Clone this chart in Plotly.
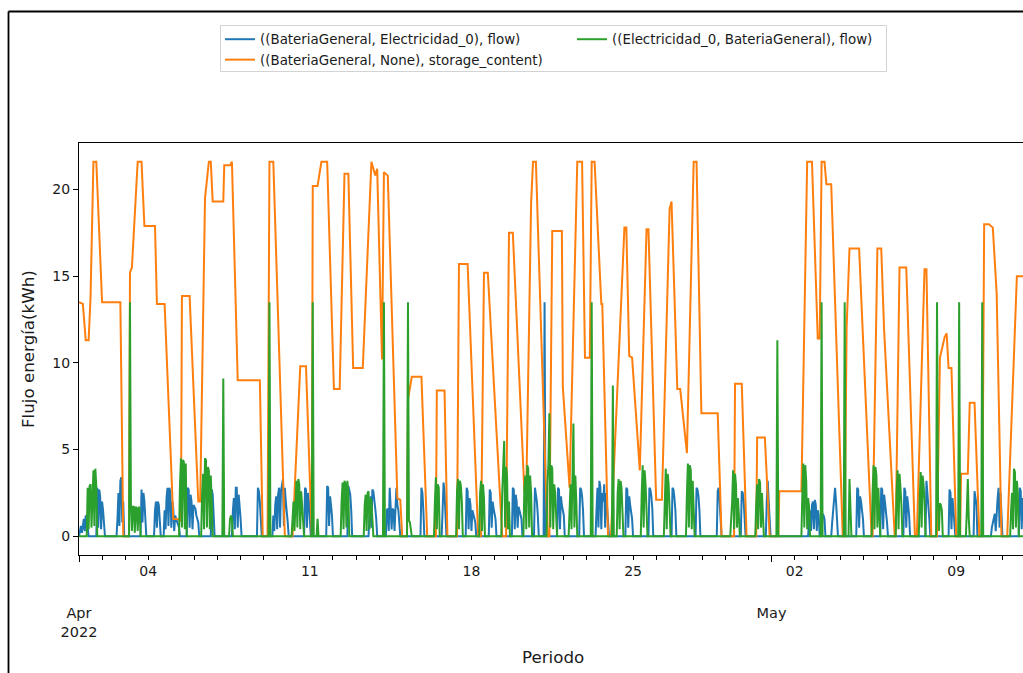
import pandas as pd
import plotly.graph_objects as go

START = pd.Timestamp("2022-04-01 00:00")
N_HOURS = 985

# Battery storage content: knots (hours since START, kWh)
storage_hours = [
    0, 4, 7, 10, 12, 15, 18, 24, 43, 46, 52, 53, 55, 61, 65, 68, 79, 81, 89, 98,
    102, 106, 107, 115, 124, 126, 131, 135, 137, 139, 150, 151, 157, 159, 165, 188,
    191, 196, 198, 202, 214, 222, 230, 236, 242, 243, 248, 252, 258, 265, 271, 276,
    280, 285, 295, 304, 308, 310, 315, 317, 321, 331, 334, 336, 341, 342, 346, 356,
    362, 371, 372, 380, 383, 393, 395, 404, 415, 418, 421, 425, 440, 444, 447, 451,
    463, 465, 470, 472, 475, 487, 489, 492, 502, 503, 510, 518, 523, 526, 531, 533,
    536, 541, 543, 544, 550, 553, 567, 569, 572, 575, 583, 590, 592, 600, 606, 614,
    616, 622, 625, 632, 639, 642, 647, 664, 668, 681, 682, 689, 694, 704, 705, 713,
    718, 727, 728, 751, 757, 762, 768, 770, 772, 775, 777, 782, 794, 796, 798, 801,
    811, 824, 825, 830, 834, 837, 848, 849, 853, 860, 869, 871, 879, 881, 886, 892,
    895, 900, 902, 904, 907, 912, 916, 917, 924, 926, 931, 936, 939, 941, 946, 950,
    954, 959, 965, 975, 984,
]
storage_kwh = [
    13.5, 13.4, 11.3, 11.3, 13.8, 21.6, 21.6, 13.5, 13.5, 0, 0, 15.2, 15.5, 21.6, 21.6, 17.9, 17.9, 13.4, 13.4, 1.0,
    1.0, 0.9, 13.85, 13.85, 2.0, 2.0, 19.5, 21.6, 21.6, 19.3, 19.3, 21.4, 21.4, 21.6, 9.0, 9.0,
    0, 0, 21.6, 21.6, 0, 0, 9.8, 9.8, 0, 20.2, 20.2, 21.6, 21.6, 8.5, 8.5, 20.9,
    20.9, 9.7, 9.7, 21.6, 20.8, 21.2, 10.2, 21.0, 20.8, 2.2, 2.1, 0, 0, 7.9, 9.2, 9.2,
    0, 0, 8.4, 8.4, 0, 0, 15.7, 15.7, 0, 0, 15.2, 15.2, 0, 0, 17.5, 17.5,
    2.6, 2.6, 19.2, 21.6, 21.6, 0, 0, 17.6, 17.6, 8.6, 2.8, 21.6, 21.6, 10.3, 10.3, 21.6,
    21.6, 16.2, 13.4, 13.4, 0, 0, 17.8, 17.8, 10.4, 10.3, 3.8, 17.7, 17.7, 2.1, 2.1, 18.9,
    19.3, 8.5, 8.5, 4.8, 21.6, 21.6, 7.1, 7.1, 0, 0, 8.8, 8.8, 0, 0, 5.7, 5.7,
    0, 0, 2.6, 2.6, 21.6, 21.6, 11.4, 11.4, 21.6, 21.6, 20.3, 20.3, 0, 0, 12.0, 16.6,
    16.6, 0, 0, 16.6, 16.6, 11.9, 0, 0, 15.5, 15.5, 0, 0, 15.4, 15.4, 0, 0,
    10.3, 11.5, 11.7, 9.7, 9.7, 0, 0, 3.6, 3.6, 7.7, 7.7, 0, 0, 18.0, 18.0, 17.8,
    14.0, 0, 0, 15.0, 15.0,
]

# Grid -> battery flow (charging): (first hour, hourly kWh)
charge_blocks = [
    (9, [2.8, 0.4, 2.9, 3.0, 0.5, 3.2, 3.8, 0.6, 3.9, 2.9]),
    (53, [13.5, 1.7, 0.3, 1.7, 1.7, 0.2, 1.7, 1.6, 0.3, 1.7, 1.6]),
    (105, [3.0, 4.5, 0.5, 4.4, 4.3, 0.4, 4.2]),
    (128, [2.5, 3.6, 0.4, 4.5, 4.4, 0.5, 4.0, 3.8, 0.4, 3.5, 2.0]),
    (150, [9.1]),
    (157, [1.0, 1.2, 1.0]),
    (198, [13.5]),
    (222, [1.0, 2.0, 0.3, 2.6, 3.2, 0.5, 3.3, 3.0, 0.4, 2.6, 1.5, 0.8]),
    (243, [13.5]),
    (248, [1.0]),
    (273, [2.0, 3.1, 0.4, 3.2, 3.0, 0.5, 3.2, 2.5]),
    (297, [1.8, 2.4, 0.3, 2.5, 2.6, 0.4, 2.2, 2.0, 1.0]),
    (317, [13.5]),
    (342, [13.5, 0.9, 0.8, 0.5]),
    (370, [2.0, 3.4, 0.4, 3.0, 2.8]),
    (393, [2.6, 3.3, 0.4, 3.2, 2.9, 2.0]),
    (417, [2.5, 3.2, 0.3, 3.0, 2.2]),
    (440, [2.5, 4.1, 5.5, 0.5, 4.0, 3.5, 0.4, 2.0]),
    (463, [2.8, 3.5, 0.4, 4.1, 3.9, 0.5, 3.5, 2.5]),
    (487, [3.0, 4.2, 7.1, 0.5, 4.1, 3.9, 0.4, 3.0, 2.5, 1.5]),
    (510, [1.5, 3.0, 0.4, 3.5, 6.5, 0.5, 3.5, 2.0]),
    (533, [13.5]),
    (555, [8.7]),
    (560, [2.5, 3.3, 0.4, 3.2, 2.8, 1.5]),
    (585, [2.5, 4.1, 0.5, 3.8, 3.0, 1.8]),
    (609, [2.0, 3.9, 0.4, 3.6, 3.0, 1.5]),
    (632, [2.5, 4.2, 0.5, 4.1, 3.8, 0.4, 3.2, 2.0]),
    (678, [1.0, 2.0, 3.8, 0.4, 3.6, 3.0, 0.5, 2.2, 1.2]),
    (704, [1.8, 3.0, 0.4, 3.3, 3.1, 0.5, 2.5, 1.5]),
    (726, [11.3]),
    (752, [2.5, 4.2, 0.5, 4.1, 3.2, 0.4, 2.2, 1.7]),
    (772, [13.5]),
    (796, [13.5]),
    (801, [3.3, 2.0]),
    (825, [2.5, 4.1, 0.4, 4.0, 3.5, 0.5, 2.8, 1.5]),
    (850, [2.5, 3.8, 0.4, 3.6, 2.8, 1.8]),
    (874, [2.2, 3.7, 0.5, 3.5, 3.0, 2.0]),
    (892, [13.5, 2.1, 0.3, 1.9, 1.8, 1.5]),
    (915, [13.5]),
    (923, [1.5, 3.3, 1.0]),
    (939, [13.5]),
    (969, [1.5, 2.5, 0.4, 3.9, 3.7, 0.5, 3.2, 2.5]),
]

# Battery -> grid flow (discharging): (first hour, hourly kWh)
discharge_blocks = [
    (1, [0.4, 0.6, 0.2, 0.5, 1.0, 0.3, 1.2, 1.1, 0.6]),
    (19, [2.8, 0.5, 2.7, 2.3, 0.4, 2.0, 1.5, 0.5]),
    (40, [1.0, 2.5, 0.6, 3.2, 3.4, 0.8, 2.0]),
    (65, [2.7, 0.8, 2.5, 2.0, 1.0]),
    (79, [1.5, 2.0, 0.5, 2.0, 1.8, 1.0]),
    (89, [1.5, 0.4, 2.2, 2.8, 0.6, 2.8, 2.5, 0.5, 2.0, 1.6, 0.3, 1.2, 1.0, 0.8, 0.6, 0.5]),
    (113, [2.8, 2.7, 0.5, 2.4, 2.0, 0.4, 1.8, 1.7, 1.6, 1.2, 1.0, 0.8]),
    (138, [2.7, 2.4, 1.2]),
    (160, [1.5, 2.2, 0.4, 2.8, 2.8, 0.5, 2.4, 1.8, 1.0]),
    (186, [2.8, 2.6, 2.0, 1.0]),
    (202, [1.2, 0.3, 1.8, 2.3, 0.4, 2.4, 2.8, 0.5, 2.6, 3.0, 3.3, 0.6, 2.8, 2.0, 1.5, 0.8]),
    (235, [2.8, 2.7, 0.5, 2.5, 2.0, 1.0]),
    (258, [2.9, 2.8, 0.6, 2.3, 1.8, 1.2]),
    (280, [2.9, 2.7, 2.4, 1.5]),
    (302, [1.2, 2.3, 0.5, 2.7, 2.6, 2.2, 1.6, 1.0]),
    (320, [1.5, 1.6, 0.3, 2.8, 1.7, 0.4, 1.6, 1.5, 0.3, 1.7, 2.8, 1.8, 1.5, 0.8]),
    (356, [2.8, 2.5, 1.5]),
    (378, [1.5, 3.1, 2.5, 1.5]),
    (403, [2.8, 2.6, 0.4, 2.2, 1.8, 0.3, 1.5, 1.3, 1.1, 0.8]),
    (427, [2.7, 2.5, 0.5, 2.0, 1.6, 1.3, 1.0]),
    (451, [2.8, 2.7, 0.4, 2.4, 2.0, 0.5, 1.7, 1.5, 1.3, 1.0]),
    (474, [2.8, 2.5, 2.0, 1.2]),
    (484, [13.5]),
    (498, [2.8, 2.7, 0.4, 2.3, 1.8, 1.5, 1.2]),
    (521, [2.8, 2.7, 2.3, 1.5]),
    (538, [1.5, 2.8, 0.5, 3.2, 2.8, 0.4, 2.5, 2.0, 3.0, 0.5, 2.5, 1.8, 1.2]),
    (569, [2.8, 2.7, 0.5, 2.3, 1.8, 1.4, 1.0]),
    (593, [2.8, 2.7, 2.3, 1.6]),
    (617, [2.8, 2.7, 2.2, 1.5]),
    (642, [2.8, 2.7, 2.3, 1.5]),
    (664, [2.6, 2.8, 2.0, 1.0]),
    (689, [2.6, 2.5, 2.0, 1.0]),
    (715, [2.0, 3.2, 2.0, 0.8]),
    (759, [1.0, 1.5, 0.3, 1.8, 2.0, 0.4, 2.1, 1.8, 0.3, 1.5, 1.2]),
    (773, [1.3, 1.2, 1.0]),
    (783, [0.8, 1.5, 2.4, 2.8, 2.0, 1.0]),
    (809, [2.8, 2.7, 0.5, 2.3, 2.0, 1.5, 1.0]),
    (834, [2.8, 2.7, 0.4, 2.4, 1.9, 1.5, 0.8]),
    (858, [2.8, 2.6, 0.5, 2.3, 1.8, 1.2]),
    (881, [3.2, 2.6, 1.8, 1.0]),
    (905, [2.7, 2.5, 0.4, 2.2, 1.6, 1.0]),
    (931, [2.6, 2.3, 1.8]),
    (949, [0.5, 0.8, 1.0, 1.3, 0.3, 1.7, 2.2, 2.8, 0.5, 2.5, 1.5]),
    (978, [2.8, 2.6, 0.4, 2.2, 2.0]),
]

# Axis ticks
y_ticks = [0, 5, 10, 15, 20]
week_ticks = ["2022-04-04", "2022-04-11", "2022-04-18", "2022-04-25", "2022-05-02", "2022-05-09"]
week_labels = ["04", "11", "18", "25", "02", "09"]
month_ticks = ["2022-04-01", "2022-05-01"]
month_labels = ["Apr<br>2022", "May"]

SERIES_NAMES = [
    "((BateriaGeneral, Electricidad_0), flow)",
    "((BateriaGeneral, None), storage_content)",
    "((Electricidad_0, BateriaGeneral), flow)",
]
COLORS = ["#1f77b4", "#ff7f0e", "#2ca02c"]


def hourly(blocks):
    vals = [0.0] * N_HOURS
    for h0, seq in blocks:
        for i, v in enumerate(seq):
            vals[h0 + i] = v
    return vals


hours = pd.date_range(START, periods=N_HOURS, freq="h")
storage_t = START + pd.to_timedelta(storage_hours, unit="h")

fig = go.Figure()
fig.add_trace(go.Scatter(x=hours, y=hourly(discharge_blocks), mode="lines",
                         name=SERIES_NAMES[0], legendrank=1,
                         line=dict(color=COLORS[0], width=2)))
fig.add_trace(go.Scatter(x=storage_t, y=storage_kwh, mode="lines",
                         name=SERIES_NAMES[1], legendrank=3,
                         line=dict(color=COLORS[1], width=2)))
fig.add_trace(go.Scatter(x=hours, y=hourly(charge_blocks), mode="lines",
                         name=SERIES_NAMES[2], legendrank=2,
                         line=dict(color=COLORS[2], width=2)))
# empty trace that binds the month-tick axis so it gets drawn
fig.add_trace(go.Scatter(x=[], y=[], xaxis="x2", yaxis="y", mode="lines",
                         showlegend=False, hoverinfo="skip"))

# Page geometry (pixels)
W, H = 1023, 673
L, T, B = 79, 143, 118
PW, PH = W - L, H - T - B
PX_PER_DAY = 23.086


def px_x(x):
    return (x - L) / PW


def px_y(y):
    return (H - B - y) / PH


x_end = START + pd.Timedelta(hours=PW * 24 / PX_PER_DAY)
x_range = [START, x_end]
font = "DejaVu Sans"
ink = "#1a1a1a"

fig.update_layout(
    width=W, height=H, autosize=False,
    margin=dict(l=L, r=0, t=T, b=B, pad=0, autoexpand=False),
    paper_bgcolor="white", plot_bgcolor="white",
    font=dict(family=font, size=14, color=ink),
    showlegend=True,
    legend=dict(
        orientation="h", x=px_x(220), y=px_y(24), xanchor="left", yanchor="top",
        entrywidth=307, entrywidthmode="pixels",
        bgcolor="rgba(0,0,0,0)", borderwidth=0,
        font=dict(family=font, size=13.4, color=ink),
        traceorder="normal",
    ),
    xaxis=dict(
        type="date", range=x_range, showgrid=False, zeroline=False,
        showline=True, mirror=True, linecolor="black", linewidth=1,
        tickmode="array", tickvals=week_ticks, ticktext=week_labels,
        ticks="outside", ticklen=3.5, tickwidth=1, tickcolor="black",
        tickfont=dict(family=font, size=14, color=ink),
        minor=dict(ticks="outside", ticklen=3.5, tickwidth=1, tickcolor="black",
                   dtick=86400000, tick0="2022-04-01", showgrid=False),
    ),
    xaxis2=dict(
        type="date", range=x_range, overlaying="x", anchor="y", side="bottom",
        showgrid=False, zeroline=False, showline=False,
        tickmode="array", tickvals=month_ticks, ticktext=month_labels,
        ticks="outside", ticklen=6, tickwidth=1, tickcolor="black",
        ticklabelstandoff=39,
        tickfont=dict(family=font, size=14.5, color=ink),
    ),
    yaxis=dict(
        range=[-1.08, 22.68], showgrid=False, zeroline=False,
        showline=True, linecolor="black", linewidth=1,
        tickmode="array", tickvals=y_ticks,
        ticks="outside", ticklen=5, tickwidth=1, tickcolor="black",
        tickfont=dict(family=font, size=14, color=ink),
    ),
    annotations=[
        dict(text="Periodo", xref="paper", yref="paper", x=px_x(553), y=px_y(657),
             xanchor="center", yanchor="middle", showarrow=False,
             font=dict(family=font, size=16.7, color=ink)),
        dict(text="Flujo energía(kWh)", xref="paper", yref="paper", x=px_x(28), y=0.5,
             xanchor="center", yanchor="middle", textangle=-90, showarrow=False,
             font=dict(family=font, size=16.7, color=ink)),
    ],
    shapes=[
        # outer frame (left and top edges)
        dict(type="line", xref="paper", yref="paper", x0=px_x(8.5), x1=px_x(8.5),
             y0=px_y(11.5), y1=px_y(H + 2), line=dict(color="black", width=1.8)),
        dict(type="line", xref="paper", yref="paper", x0=px_x(8.5), x1=px_x(W + 2),
             y0=px_y(11.5), y1=px_y(11.5), line=dict(color="black", width=1.8)),
        # legend frame
        dict(type="rect", xref="paper", yref="paper", x0=px_x(220.5), x1=px_x(886.5),
             y0=px_y(71.5), y1=px_y(25.5), line=dict(color="#d3d3d3", width=1)),
    ],
)

fig.write_html("out.html")
